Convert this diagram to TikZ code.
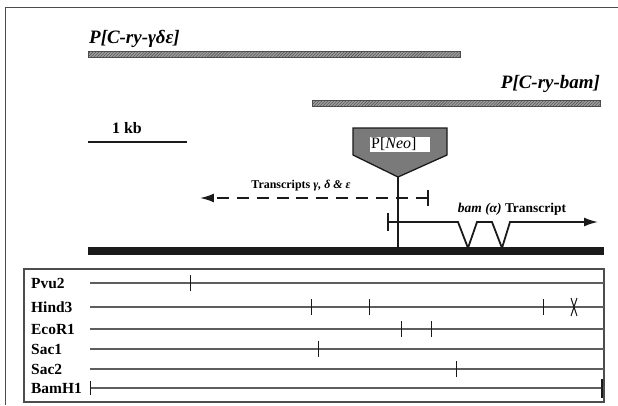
\documentclass[tikz,border=0pt]{standalone}
\usepackage{fontspec}
\setmainfont{Liberation Serif}
\usetikzlibrary{positioning,arrows.meta,patterns}
\definecolor{ink}{HTML}{1A1A1A}
\definecolor{frame}{HTML}{4D4D4D}
\definecolor{rule}{HTML}{5E5E5E}
\definecolor{neo}{HTML}{7A7A7A}
\definecolor{clone}{HTML}{9C9C9C}
\newcommand{\gn}[1]{\textbf{\textit{#1}}}
\tikzset{
  clonebar/.style={draw=frame, line width=0.8pt, preaction={fill=clone},
                   pattern=north east lines, pattern color=frame},
  bigtxt/.style={font=\fontsize{19}{21}\selectfont, inner sep=0pt},
  midtxt/.style={font=\fontsize{16}{18}\selectfont, inner sep=0pt},
  smalltxt/.style={font=\fontsize{12}{14}\selectfont, inner sep=0pt},
  rowtxt/.style={font=\fontsize{15.5}{17}\selectfont\bfseries, inner sep=0pt, anchor=base west},
  siteline/.style={draw=rule, line width=1.1pt},
  cut/.style={draw=ink, line width=1pt},
  tx/.style={draw=ink, line width=1.8pt}
}

\begin{document}
\begin{tikzpicture}[x=1bp, y=-1bp]
  \useasboundingbox (0,0) rectangle (618,405);
  \draw[frame, line width=1pt] (5,405) -- (5,7) -- (618,7);

  % clones
  \path[clonebar] (88,51.5) rectangle (460,57);
  \node[bigtxt, anchor=base west] (gde) at (89,43) {\gn{P[C-ry-γδε]}};
  \path[clonebar] (312,100.5) rectangle (600,106);
  \node[bigtxt, anchor=base east] (bam) at (600,88) {\gn{P[C-ry-bam]}};

  % scale
  \coordinate (kbL) at (88,142);
  \coordinate (kbR) at (187,142);
  \draw[ink, line width=1.6pt] (kbL) -- (kbR);
  \node[midtxt, anchor=base] (kb) at (127,133) {\textbf{1 kb}};

  % insertion
  \coordinate (tip) at (398,177);
  \filldraw[fill=neo, draw=ink, line width=1.3pt]
    (353,128) -- (447,128) -- (447,155) -- (tip) -- (353,155) -- cycle;
  \fill[white] (370,137) rectangle (430,152);
  \node[midtxt, anchor=west] (neolbl) at (371,144.5) {P[\textit{Neo}]};
  \coordinate (base) at (398,251);
  \draw[ink, line width=1.5pt] (tip) -- (base);

  % transcripts
  \coordinate (gs) at (428,198);
  \coordinate (ge) at (200,198);
  \draw[tx, dash pattern=on 12pt off 8pt, -{Latex[length=14pt, width=9pt]}] (gs) -- (ge);
  \draw[tx] (428,190) -- (428,206);
  \node[smalltxt, anchor=base] (gtxt) at (301,188) {\textbf{Transcripts \textit{γ, δ \& ε}}};

  \coordinate (as) at (388,222);
  \coordinate (ae) at (598,222);
  \draw[tx] (388,213) -- (388,231);
  \draw[tx, -{Latex[length=14pt, width=9pt]}]
    (as) -- (458,222) -- (468,248) -- (477,222) -- (492,222) -- (502,248) -- (510,222) -- (ae);
  \node[font=\fontsize{13.5}{15}\selectfont, inner sep=0pt, anchor=base] (atxt) at (512,212)
    {\textbf{\textit{bam (α)} Transcript}};

  % genomic DNA
  \fill[ink] (88,247) rectangle (604,255);

  % restriction map
  \draw[frame, line width=1.3pt] (24,269) rectangle (604,402);
  \foreach \enz/\y in {Pvu2/283, Hind3/307, EcoR1/329, Sac1/349, Sac2/369, BamH1/388} {
    \node[rowtxt] (\enz) at (31,\y+5) {\enz};
    \draw[siteline] (90,\y) -- (604,\y);
  }
  \foreach \x/\y in {190/283, 311/307, 369/307, 543/307, 401/329, 431/329, 318/349, 456/369} {
    \draw[cut] (\x,\y-8) -- (\x,\y+8);
  }
  \draw[cut] (571,298) -- (577,316);
  \draw[cut] (577,298) -- (571,316);
  \draw[cut] (90,381) -- (90,395);
  \draw[ink, line width=2.5pt] (602,379) -- (602,398);
\end{tikzpicture}
\end{document}
